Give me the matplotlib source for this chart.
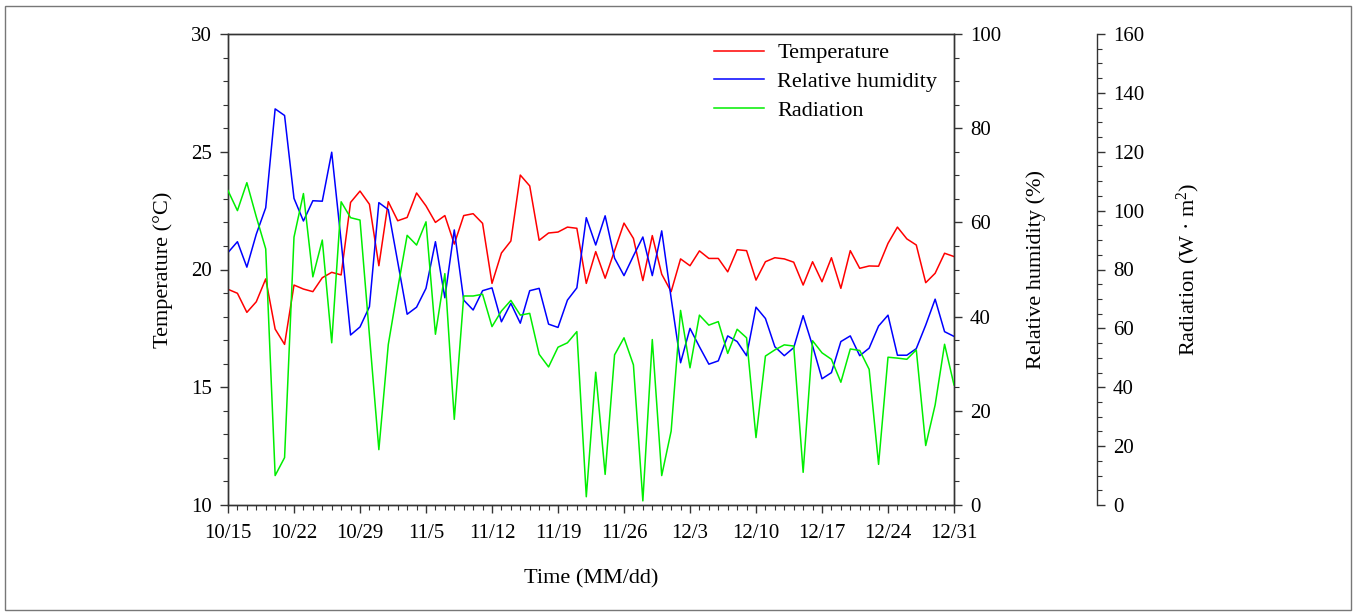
import numpy as np
import pandas as pd
import matplotlib
matplotlib.use("Agg")
import matplotlib.pyplot as plt
import matplotlib.dates as mdates
from matplotlib.ticker import MultipleLocator
from matplotlib.patches import Rectangle

plt.rcParams['font.family'] = ['Liberation Serif', 'DejaVu Serif']
plt.rcParams['mathtext.fontset'] = 'custom'
plt.rcParams['mathtext.rm'] = 'Liberation Serif'

# ---------------- data ----------------
dates = pd.date_range("2021-10-15", "2021-12-31", freq="D")

temperature = [19.16, 18.99, 18.18, 18.63, 19.6, 17.47, 16.82, 19.34, 19.17, 19.06,
               19.65, 19.88, 19.77, 22.85, 23.33, 22.77, 20.16, 22.88, 22.07, 22.21,
               23.25, 22.7, 22.0, 22.29, 21.08, 22.29, 22.37, 21.96, 19.41, 20.7,
               21.21, 24.01, 23.55, 21.24, 21.55, 21.59, 21.8, 21.75, 19.41, 20.76,
               19.63, 20.8, 21.97, 21.32, 19.53, 21.44, 19.8, 19.06, 20.45, 20.16,
               20.79, 20.47, 20.47, 19.9, 20.84, 20.8, 19.55, 20.33, 20.5, 20.45,
               20.31, 19.34, 20.33, 19.48, 20.5, 19.2, 20.8, 20.05, 20.15, 20.14,
               21.11, 21.8, 21.3, 21.04, 19.44, 19.84, 20.69, 20.55]

humidity = [53.6, 55.9, 50.5, 57.5, 63.1, 84.1, 82.7, 65.1, 60.3, 64.6,
            64.5, 74.9, 56.0, 36.1, 37.8, 42.1, 64.2, 62.7, 51.6, 40.5,
            42.0, 46.0, 55.9, 44.0, 58.4, 43.5, 41.4, 45.5, 46.1, 38.9,
            42.8, 38.6, 45.5, 46.0, 38.4, 37.7, 43.5, 46.1, 61.0, 55.2,
            61.4, 52.4, 48.7, 52.9, 56.9, 48.7, 58.2, 43.9, 30.2, 37.5,
            33.6, 29.9, 30.6, 35.9, 34.7, 31.7, 42.0, 39.6, 33.6, 31.7,
            33.4, 40.2, 33.8, 26.8, 28.1, 34.7, 35.9, 31.7, 33.3, 38.0,
            40.3, 31.8, 31.8, 33.2, 38.2, 43.7, 36.8, 35.8]

radiation = [106.8, 100.0, 109.5, 97.9, 87.0, 10.0, 16.1, 91.0, 105.8, 77.5,
             90.0, 55.1, 103.0, 97.6, 96.8, 57.7, 18.8, 54.5, 73.5, 91.6,
             88.3, 96.2, 58.0, 78.6, 29.1, 71.0, 71.0, 71.6, 60.6, 65.9,
             69.5, 64.5, 65.1, 51.2, 46.9, 53.6, 55.1, 58.9, 2.8, 45.1,
             10.4, 51.0, 56.8, 47.6, 1.4, 56.2, 10.0, 25.1, 66.1, 46.6,
             64.5, 61.1, 62.3, 51.5, 59.7, 56.8, 22.9, 50.6, 52.7, 54.4,
             54.0, 11.1, 55.8, 51.7, 49.5, 41.7, 53.0, 52.5, 46.1, 13.8,
             50.2, 49.9, 49.5, 52.7, 20.2, 34.0, 54.6, 40.8]

xtick_labels = ["10/15", "10/22", "10/29", "11/5", "11/12", "11/19", "11/26",
                "12/3", "12/10", "12/17", "12/24", "12/31"]

# ---------------- figure ----------------
fig = plt.figure(figsize=(13.57, 6.15), dpi=100)
ax = fig.add_axes([228 / 1357, 110 / 615, 726 / 1357, 471 / 615])
ax2 = ax.twinx()
ax3 = ax.twinx()

fs_tick = 15
fs_lab = 16
lw = 1.1

l1, = ax.plot(dates, temperature, color='#ff0000', lw=lw, label='Temperature')
l2, = ax2.plot(dates, humidity, color='#0000ff', lw=lw, label='Relative humidity')
l3, = ax3.plot(dates, radiation, color='#00ee00', lw=lw, label='Radiation')

# x axis
ax.set_xlim(dates[0], dates[-1])
major_dates = dates[::7]
ax.set_xticks(major_dates)
ax.set_xticklabels(xtick_labels)
ax.xaxis.set_minor_locator(mdates.DayLocator())
ax.set_xlabel('Time (MM/dd)', fontsize=fs_lab, labelpad=19)

# left axis
ax.set_ylim(10, 30)
ax.yaxis.set_major_locator(MultipleLocator(5))
ax.yaxis.set_minor_locator(MultipleLocator(1))
ax.set_ylabel('Temperature (°C)', fontsize=fs_lab, labelpad=13)

# right axis (humidity)
ax2.set_ylim(0, 100)
ax2.yaxis.set_major_locator(MultipleLocator(20))
ax2.yaxis.set_minor_locator(MultipleLocator(5))
ax2.set_ylabel('Relative humidity (%)', fontsize=fs_lab, labelpad=18)

# third axis (radiation)
ax3.spines['right'].set_position(('axes', 869 / 726))
for s in ['left', 'top', 'bottom']:
    ax3.spines[s].set_visible(False)
ax3.set_ylim(0, 160)
ax3.yaxis.set_major_locator(MultipleLocator(20))
ax3.yaxis.set_minor_locator(MultipleLocator(5))
ax3.set_ylabel('Radiation (W · m$\\mathregular{^2}$)', fontsize=fs_lab, labelpad=22)

for a in (ax, ax2, ax3):
    a.tick_params(which='major', direction='out', length=5.5, width=1, labelsize=fs_tick,
                  color='#333333', pad=6)
    a.tick_params(which='minor', direction='out', length=3.5, width=0.8, color='#333333')
    for s in a.spines.values():
        s.set_color('#333333')
        s.set_linewidth(1.0)
ax.tick_params(axis='x', which='major', pad=8)

leg = ax.legend(handles=[l1, l2, l3], loc='upper left',
                bbox_to_anchor=(477 / 726, 1.0), frameon=False, fontsize=fs_lab,
                handlelength=2.25, handletextpad=0.6, labelspacing=0.36,
                borderaxespad=0.0)

fig.patches.append(Rectangle((5 / 1357, 5 / 615), 1346 / 1357, 604 / 615,
                             transform=fig.transFigure, fill=False,
                             edgecolor='#777777', linewidth=1.0))

fig.savefig('out.png', dpi=100, facecolor='white')
